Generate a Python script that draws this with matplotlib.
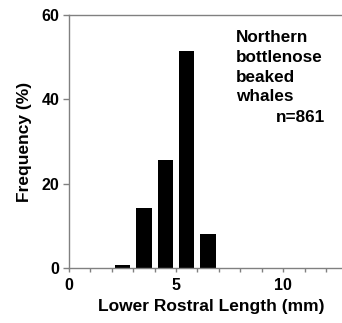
import matplotlib
matplotlib.use("Agg")
import matplotlib.pyplot as plt

bin_centers = [2.5, 3.5, 4.5, 5.5, 6.5]
frequency = [0.8, 14.1, 25.6, 51.4, 8.0]
x_ticks = [0, 5, 10]
y_ticks = [0, 20, 40, 60]

plt.rcParams['font.family'] = ['Liberation Sans', 'DejaVu Sans']
plt.rcParams['font.weight'] = 'bold'

W, H = 342, 323
fig = plt.figure(figsize=(W/100, H/100), dpi=100)
ax = fig.add_axes([69/W, 55/H, 1 - 69/W, (268-14.7)/H])

ax.bar(bin_centers, frequency, width=0.72, color='black', edgecolor='none')
ax.set_xlim(0, 12.75)
ax.set_ylim(0, 60)

gray = '#808080'
for s in ['left', 'bottom', 'top']:
    ax.spines[s].set_color(gray)
    ax.spines[s].set_linewidth(1.0)
ax.spines['right'].set_visible(False)

ax.set_xticks(range(0, 13))
ax.set_xticklabels([str(t) if t in x_ticks else '' for t in range(0, 13)])
ax.set_yticks(y_ticks)
ax.tick_params(axis='both', colors=gray, labelcolor='black', labelsize=11.5, direction='out')
ax.tick_params(axis='x', length=3, width=1, pad=4)
ax.tick_params(axis='y', length=4, width=1, pad=3)
for lab in ax.get_xticklabels() + ax.get_yticklabels():
    lab.set_fontweight('bold')

fig.text(211/W, 1 - 306/H, 'Lower Rostral Length (mm)', fontsize=12.5, fontweight='bold',
         ha='center', va='center')
fig.text(25/W, 1 - 142/H, 'Frequency (%)', fontsize=12.5, fontweight='bold',
         ha='center', va='center', rotation=90)

fig.text(236/W, 1 - 30/H, 'Northern\nbottlenose\nbeaked\nwhales', fontsize=12.3,
         fontweight='bold', va='top', ha='left', linespacing=1.4)
fig.text(325/W, 1 - 118/H, 'n=861', fontsize=12.3, fontweight='bold', ha='right', va='center')

fig.savefig('out.png', dpi=100)
